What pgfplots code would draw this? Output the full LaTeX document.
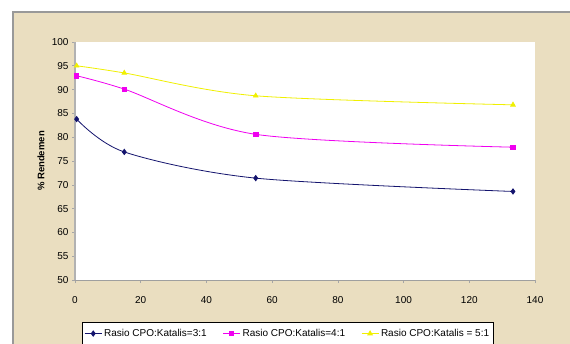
\documentclass[border=0pt]{standalone}
\usepackage{pgfplots}
\pgfplotsset{compat=1.18}
\usepackage{fontspec}
\setmainfont{Liberation Sans}
\definecolor{parch}{RGB}{234,222,192}
\definecolor{navyline}{RGB}{20,20,110}
\definecolor{yel}{RGB}{240,240,0}
\definecolor{mag}{RGB}{240,0,240}
\begin{document}
\begin{tikzpicture}
\fill[white] (0pt,0pt) rectangle (570pt,343pt);
\fill[parch] (13pt,-20pt) rectangle (575pt,331pt);
\draw[gray!80,line width=1.2pt] (13pt,-20pt) -- (13pt,331pt) -- (575pt,331pt);
\begin{axis}[
  at={(75pt,63pt)}, anchor=south west,
  scale only axis, width=460pt, height=238pt,
  xmin=0, xmax=140, ymin=50, ymax=100,
  xtick={0,20,...,140}, ytick={50,55,...,100},
  axis x line*=bottom, axis y line*=left,
  axis line style={gray!75, line width=0.8pt},
  y axis line style={line width=1.6pt, gray!60},
  axis background/.style={fill=white},
  tick align=outside, major tick length=3pt,
  tick style={gray!70, line width=0.6pt},
  xticklabel style={yshift=-10pt},
  ticklabel style={font=\fontsize{10}{12}\selectfont, black},
  /pgf/number format/assume math mode=true,
  ylabel={\textbf{\% Rendemen}},
  ylabel style={font=\fontsize{9.5}{11}\selectfont, at={(axis description cs:-0.074,0.5)}, anchor=center},
  legend columns=3,
  legend style={at={(axis description cs:0.0152,-0.176)}, anchor=north west,
    draw=black, line width=0.6pt, fill=white, font=\fontsize{10}{12}\selectfont,
    inner xsep=2pt, inner ysep=5pt, /tikz/every even column/.append style={column sep=14pt}},
  legend cell align=left,
]
\addplot[navyline, line width=0.8pt, smooth, tension=0.5, mark=diamond*, mark size=2.6pt, mark options={fill=navyline}]
  coordinates {(0.5,83.8) (15,76.9) (55,71.4) (133.3,68.6)};
\addlegendentry{Rasio CPO:Katalis=3:1}
\addplot[mag, line width=0.8pt, smooth, tension=0.5, mark=square*, mark size=2.2pt, mark options={fill=mag}]
  coordinates {(0.5,92.9) (15,90.1) (55,80.6) (133.3,77.9)};
\addlegendentry{Rasio CPO:Katalis=4:1}
\addplot[yel, line width=0.8pt, smooth, tension=0.5, mark=triangle*, mark size=2.6pt, mark options={fill=yel}]
  coordinates {(0.5,95.0) (15,93.5) (55,88.7) (133.3,86.8)};
\addlegendentry{Rasio CPO:Katalis = 5:1}
\end{axis}
\pgfresetboundingbox
\path[use as bounding box] (0pt,0pt) rectangle (570pt,343pt);
\end{tikzpicture}
\end{document}
